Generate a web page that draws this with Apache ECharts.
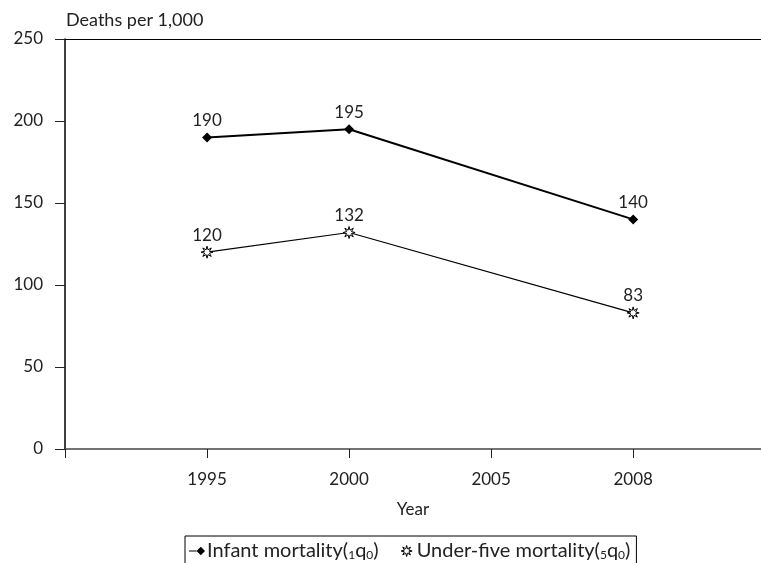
<!DOCTYPE html>
<html><head><meta charset="utf-8">
<script src="https://cdn.jsdelivr.net/npm/echarts@6/dist/echarts.min.js"></script>
<style>html,body{margin:0;padding:0;background:#fff}#c{width:761px;height:563px}</style>
</head><body><div id="c"></div>
<script>
var years = ['', '1995', '2000', '2005', '2008'];
var infantMortality = [null, 190, 195, null, 140];
var underFiveMortality = [null, 120, 132, null, 83];
var yTicks = [0, 50, 100, 150, 200, 250];

var FONT = 'Lato';
var sunPath = 'path://M0,-10L1.6,-4L7.07,-7.07L4,-1.6L10,0L4,1.6L7.07,7.07L1.6,4L0,10L-1.6,4L-7.07,7.07L-4,1.6L-10,0L-4,-1.6L-7.07,-7.07L-1.6,-4Z';
var diamondTail = 'path://M0,-5L5,0L0,5L-5,0Z M-5,-0.6L-14,-0.6L-14,0.6L-5,0.6Z';

function toPairs(arr) {
  var out = [];
  arr.forEach(function (v, i) { if (v !== null) out.push([i, v]); });
  return out;
}
var tickIdx = years.map(function (_, i) { return i; });
var labelIdx = tickIdx.filter(function (i) { return years[i] !== ''; });

var chart = echarts.init(document.getElementById('c'));
chart.setOption({
  animation: false,
  textStyle: {fontFamily: FONT, color: '#222'},
  title: {text: 'Deaths per 1,000', left: 66, top: 11, padding: 0, textStyle: {fontFamily: FONT, fontSize: 18, fontWeight: 'normal', color: '#222'}},
  grid: {left: 65, right: 0, top: 39, bottom: 114, show: false, containLabel: false},
  xAxis: [{
    type: 'value', min: 0, max: 4.9,
    name: 'Year', nameLocation: 'middle', nameGap: 52,
    nameTextStyle: {fontFamily: FONT, fontSize: 17, color: '#222'},
    axisLine: {lineStyle: {color: '#444', width: 1.5}},
    axisTick: {show: true, length: 9, lineStyle: {color: '#222'}, customValues: tickIdx},
    axisLabel: {fontFamily: FONT, fontSize: 17, color: '#222', margin: 22, customValues: labelIdx,
      formatter: function (v) { return years[Math.round(v)] || ''; }},
    splitLine: {show: false}
  }, {
    type: 'value', min: 0, max: 4.9, position: 'top',
    axisLine: {show: true, lineStyle: {color: '#000', width: 1}},
    axisTick: {show: false}, axisLabel: {show: false}, splitLine: {show: false}
  }],
  yAxis: {
    type: 'value', min: 0, max: 250, interval: 50,
    axisLine: {show: true, lineStyle: {color: '#000', width: 1.5}},
    axisTick: {show: true, length: 10, lineStyle: {color: '#222'}},
    axisLabel: {fontFamily: FONT, fontSize: 17, color: '#222', margin: 22},
    splitLine: {show: false}
  },
  legend: {
    data: [
      {name: 'Infant mortality', icon: diamondTail, itemStyle: {color: '#000'}},
      {name: 'Under-five mortality', icon: sunPath, itemStyle: {color: '#fff', borderColor: '#000', borderWidth: 1}}
    ],
    left: 185, top: 536,
    padding: [5, 6, 12, 4],
    borderColor: '#000', borderWidth: 1,
    itemGap: 22, itemWidth: 16, itemHeight: 11,
    textStyle: {fontFamily: FONT, fontSize: 20, color: '#222', padding: [0, 0, 0, -3],
      rich: {
        t: {fontFamily: FONT, fontSize: 20, color: '#222'},
        s: {fontFamily: FONT, fontSize: 12, color: '#222', padding: [9, 0, 0, 0]}
      }
    },
    formatter: function (name) {
      if (name === 'Infant mortality') return '{t|Infant mortality(}{s|1}{t|q}{s|0}{t|)}';
      return '{t|Under-five mortality(}{s|5}{t|q}{s|0}{t|)}';
    }
  },
  series: [
    {
      name: 'Infant mortality', type: 'line', data: toPairs(infantMortality),
      symbol: 'diamond', symbolSize: 10,
      lineStyle: {color: '#000', width: 2},
      itemStyle: {color: '#000'},
      label: {show: true, position: 'top', distance: 3, fontFamily: FONT, fontSize: 17, color: '#222',
        formatter: function (p) { return p.value[1]; }}
    },
    {
      name: 'Under-five mortality', type: 'line', data: toPairs(underFiveMortality),
      symbol: sunPath, symbolSize: 12,
      lineStyle: {color: '#000', width: 1.2},
      itemStyle: {color: '#fff', borderColor: '#000', borderWidth: 1},
      label: {show: true, position: 'top', distance: 2, fontFamily: FONT, fontSize: 17, color: '#222',
        formatter: function (p) { return p.value[1]; }}
    }
  ]
});
</script></body></html>
